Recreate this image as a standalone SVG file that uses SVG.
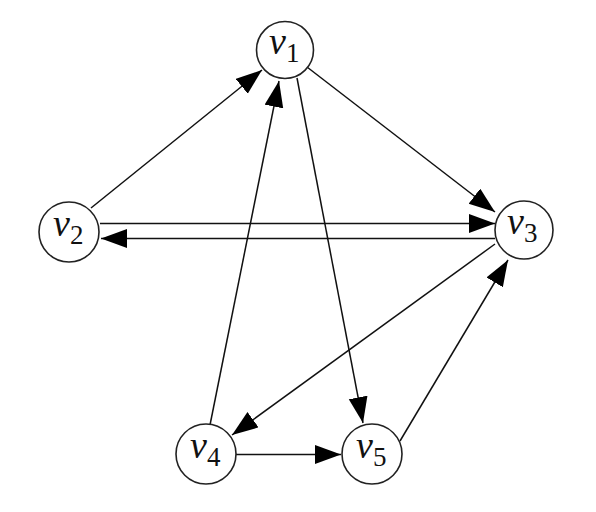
<svg xmlns="http://www.w3.org/2000/svg" width="596" height="512" viewBox="0 0 596 512">
<defs>
<marker id="ah" markerUnits="userSpaceOnUse" markerWidth="28" markerHeight="20" refX="26" refY="9.5" orient="auto">
<path d="M0,0 L26,9.5 L0,19 z" fill="#000"/>
</marker>
</defs>
<style>
.node circle{fill:#fff;stroke:#222;stroke-width:1.6}
.node text{font-family:"Liberation Serif",serif;font-size:38px;fill:#111}
.node .v{font-style:italic}
.node .s{font-size:27px}
.edges line{stroke:#111;stroke-width:1.5;marker-end:url(#ah)}
</style>
<rect width="596" height="512" fill="#fff"/>
<g class="edges">
<line x1="91" y1="208" x2="262" y2="70"/>
<line x1="307" y1="67" x2="495" y2="212"/>
<line x1="297" y1="78" x2="363" y2="423"/>
<line x1="210" y1="425" x2="279" y2="81"/>
<line x1="100" y1="223.5" x2="495" y2="223.5"/>
<line x1="495" y1="238.5" x2="101" y2="238.5"/>
<line x1="495" y1="244" x2="232" y2="435"/>
<line x1="236" y1="454.5" x2="341" y2="454.5"/>
<line x1="400" y1="441" x2="508" y2="260"/>
</g>
<g id="v1" class="node"><circle cx="285" cy="50" r="28.5"/><text x="269" y="54"><tspan class="v">v</tspan><tspan class="s" dy="8">1</tspan></text></g>
<g id="v2" class="node"><circle cx="69" cy="232" r="30"/><text x="53" y="236"><tspan class="v">v</tspan><tspan class="s" dy="8">2</tspan></text></g>
<g id="v3" class="node"><circle cx="524" cy="230" r="29"/><text x="507" y="234"><tspan class="v">v</tspan><tspan class="s" dy="8">3</tspan></text></g>
<g id="v4" class="node"><circle cx="206" cy="454" r="30"/><text x="190" y="458"><tspan class="v">v</tspan><tspan class="s" dy="8">4</tspan></text></g>
<g id="v5" class="node"><circle cx="372" cy="454" r="30"/><text x="356" y="458"><tspan class="v">v</tspan><tspan class="s" dy="8">5</tspan></text></g>
</svg>
